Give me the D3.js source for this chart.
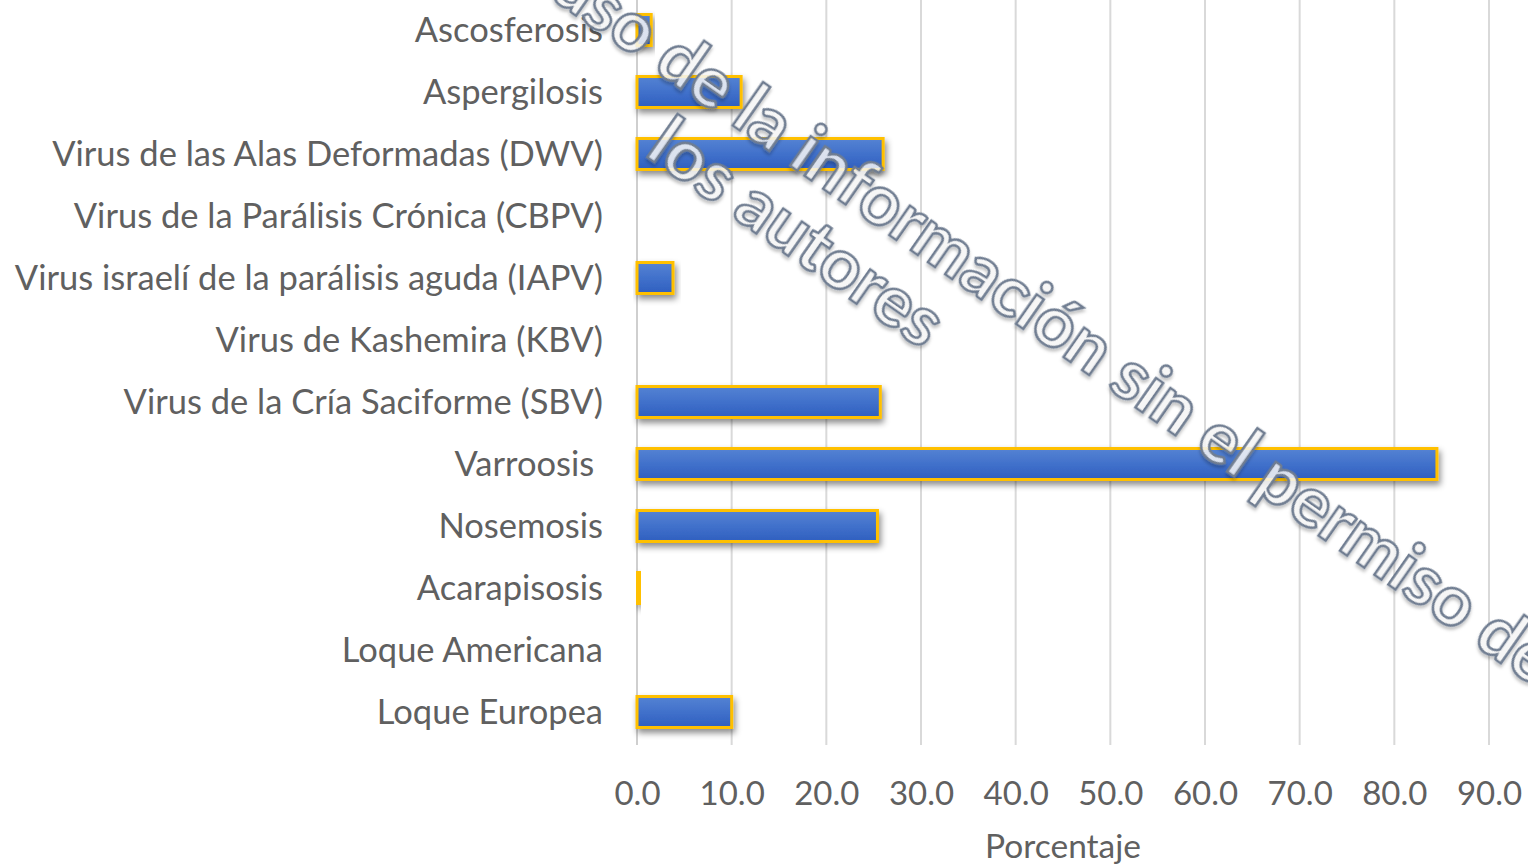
<!DOCTYPE html>
<html><head><meta charset="utf-8">
<script src="https://cdn.jsdelivr.net/npm/d3@7"></script>
<style>
html,body{margin:0;padding:0;background:#fff;}
svg{display:block;}
</style></head>
<body>
<svg id="chart" width="1528" height="867"></svg>
<script>
const categories = [
  "Ascosferosis",
  "Aspergilosis",
  "Virus de las Alas Deformadas (DWV)",
  "Virus de la Parálisis Crónica (CBPV)",
  "Virus israelí de la parálisis aguda (IAPV)",
  "Virus de Kashemira (KBV)",
  "Virus de la Cría Saciforme (SBV)",
  "Varroosis ",
  "Nosemosis",
  "Acarapisosis",
  "Loque Americana",
  "Loque Europea"
];
const values = [1.5, 11.0, 26.0, 0, 3.8, 0, 25.7, 84.5, 25.4, 0.3, 0, 10.0];
const xTicks = [0, 10, 20, 30, 40, 50, 60, 70, 80, 90];
const xTitle = "Porcentaje";
const watermarkLines = ["Prohibido el uso de la información sin el permiso de", "los autores"];

const svg = d3.select("#chart");
const font = "Lato, 'Open Sans', sans-serif";
const textColor = "#606060";

const x = d3.scaleLinear().domain([0, 90]).range([637, 1489]);
const y = d3.scaleBand().domain(categories).range([-1, 743]).paddingInner(0.5).paddingOuter(0.25);

const defs = svg.append("defs");
const grad = defs.append("linearGradient").attr("id","barGrad").attr("x1",0).attr("y1",0).attr("x2",0).attr("y2",1);
grad.append("stop").attr("offset","0%").attr("stop-color","#5583d3");
grad.append("stop").attr("offset","55%").attr("stop-color","#3f6fca");
grad.append("stop").attr("offset","100%").attr("stop-color","#2f5fbf");
const sh = defs.append("filter").attr("id","shadow").attr("x","-10%").attr("y","-50%").attr("width","130%").attr("height","250%");
sh.append("feDropShadow").attr("dx",2).attr("dy",4).attr("stdDeviation",3).attr("flood-color","#000").attr("flood-opacity",0.45);
const ws = defs.append("filter").attr("id","wmShadow").attr("x","-5%").attr("y","-20%").attr("width","110%").attr("height","140%");
ws.append("feDropShadow").attr("dx",1.5).attr("dy",2.5).attr("stdDeviation",1.8).attr("flood-color","#000").attr("flood-opacity",0.25);

// gridlines
svg.append("g").selectAll("line").data(xTicks).join("line")
  .attr("x1", d => x(d)).attr("x2", d => x(d))
  .attr("y1", 0).attr("y2", 745)
  .attr("stroke", d => d === 0 ? "#cfcfcf" : "#d9d9d9").attr("stroke-width", 2);

// bars
svg.append("g").selectAll("rect").data(values.map((v,i)=>({c:categories[i], v}))).join("rect")
  .filter(d => d.v > 0)
  .attr("x", x(0)).attr("y", d => y(d.c))
  .attr("width", d => x(d.v) - x(0)).attr("height", y.bandwidth())
  .attr("fill", "url(#barGrad)").attr("stroke", "#ffc000").attr("stroke-width", 3)
  .attr("filter", "url(#shadow)");

// category labels
const yAxis = d3.axisLeft(y).tickSize(0).tickPadding(0);
const gy = svg.append("g").attr("transform", "translate(603,0)").call(yAxis);
gy.select(".domain").remove();
gy.selectAll("text").attr("font-family", font).attr("font-size", 34.5).attr("fill", textColor)
  .attr("dy", "0.35em").style("white-space","pre");

// x tick labels
const xAxis = d3.axisBottom(x).tickValues(xTicks).tickFormat(d3.format(".1f")).tickSize(0).tickPadding(0);
const gx = svg.append("g").attr("transform", "translate(0,793)").call(xAxis);
gx.select(".domain").remove();
gx.selectAll("text").attr("font-family", font).attr("font-size", 33).attr("fill", textColor).attr("dy", "0.35em");

svg.append("text").attr("x", (x(0)+x(90))/2).attr("y", 846).attr("dy","0.35em")
  .attr("text-anchor","middle").attr("font-family", font).attr("font-size", 33.5).attr("fill", textColor)
  .text(xTitle);

// watermark
const angle = 35;
const wmFont = "Lato, sans-serif";
function measure(txt, size) {
  const t = svg.append("text").attr("font-family", wmFont).attr("font-weight", 700).attr("font-size", size).style("white-space","pre").text(txt);
  const w = t.node().getComputedTextLength();
  t.remove();
  return w;
}
const wmSize = 70 * 984 / measure("de la información sin el permiso", 70);
function placeLine(txt, prefix, px, py) {
  const g = svg.append("g").attr("transform", `translate(${px},${py}) rotate(${angle})`);
  const off = prefix ? measure(prefix, wmSize) : 0;
  g.append("text").attr("x", -off).attr("y", 0.25 * wmSize)
    .attr("font-family", wmFont).attr("font-weight", 700).attr("font-size", wmSize)
    .attr("fill", "rgba(250,250,250,0.82)").attr("stroke", "#6f7d91").attr("stroke-width", 2.6)
    .attr("filter","url(#wmShadow)")
    .text(txt);
}
placeLine(watermarkLines[0], "Prohibido el uso ", 662, 54);
placeLine(watermarkLines[1], "", 654, 140);
</script>
</body></html>
